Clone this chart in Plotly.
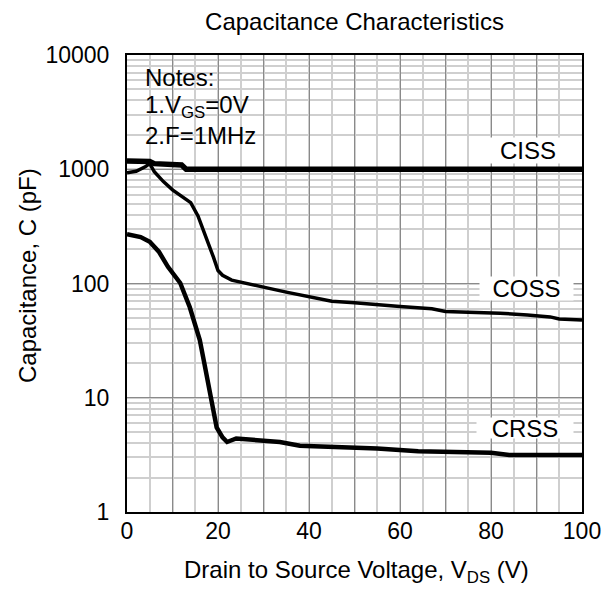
import plotly.graph_objects as go

# Drain-source voltage (V) and capacitance (pF)
v_ciss = [0, 2, 5, 6, 8, 12, 13, 20, 40, 60, 80, 100]
c_ciss = [1180, 1180, 1170, 1120, 1100, 1090, 1000, 1000, 1000, 1000, 1000, 1000]

v_coss = [0, 2, 4, 5, 6, 8, 10, 12, 14, 15.6, 17, 19, 20, 21, 23, 26, 30, 35, 40,
          45, 50, 55, 60, 67, 70, 75, 82, 88, 93, 95, 100]
c_coss = [930, 960, 1050, 1120, 950, 780, 660, 580, 510, 390, 280, 170, 130, 118, 107,
          100, 93, 84, 76, 70, 68, 65, 63, 60, 57, 56, 55, 53, 51, 49, 48]

v_crss = [0, 3, 5, 7, 9, 11.7, 13.8, 16, 17, 18.2, 19, 19.7, 21, 22, 24, 27, 30,
          33.6, 38, 45, 50, 55, 64, 70, 80, 84, 90, 100]
c_crss = [270, 255, 232, 190, 140, 101, 62, 32, 20, 11.7, 7.5, 5.5, 4.5, 4.1, 4.4,
          4.3, 4.2, 4.1, 3.8, 3.7, 3.6, 3.6, 3.4, 3.35, 3.3, 3.15, 3.15, 3.15]

x_grid = [0, 10, 20, 30, 40, 50, 60, 70, 80, 90, 100]
x_tick_labels = ["0", "", "20", "", "40", "", "60", "", "80", "", "100"]
y_ticks = [1, 10, 100, 1000, 10000]
y_tick_text = ["1", "10", "100", "1000", "10000"]

notes_lines = ["Notes:", "1.V<sub>GS</sub>=0V", "2.F=1MHz"]
series_labels = ["CISS", "COSS", "CRSS"]

FONT = "Liberation Sans, Arial, sans-serif"

# plot area in pixels
L, R, T, B = 127, 582, 55, 512
W, H = 608, 592


def pxx(px):
    return (px - L) / (R - L)


def pxy(py):
    return (B - py) / (B - T)


fig = go.Figure()
fig.add_trace(go.Scatter(x=v_ciss, y=c_ciss, mode="lines",
                         line=dict(color="black", width=5.5), name="CISS"))
fig.add_trace(go.Scatter(x=v_coss, y=c_coss, mode="lines",
                         line=dict(color="black", width=3.5), name="COSS"))
fig.add_trace(go.Scatter(x=v_crss, y=c_crss, mode="lines",
                         line=dict(color="black", width=4.5), name="CRSS"))

annotations = []
# notes block
for line, cy in zip(notes_lines, [77, 106, 135]):
    annotations.append(dict(text=line, xref="paper", yref="paper", x=pxx(143), y=pxy(cy),
                            xanchor="left", yanchor="middle", showarrow=False,
                            font=dict(size=24, color="black", family=FONT)))
# series labels with white boxes
label_boxes = [(528, 150.5, 90, 25), (526.5, 288.5, 93, 23), (525, 428, 96, 20)]
for name, (cx, cy, bw, bh) in zip(series_labels, label_boxes):
    annotations.append(dict(text=name, xref="paper", yref="paper", x=pxx(cx), y=pxy(cy),
                            xanchor="center", yanchor="middle", showarrow=False,
                            bgcolor="white", width=bw, height=bh, borderpad=0,
                            font=dict(size=24, color="black", family=FONT)))
# axis titles
annotations.append(dict(text="Drain to Source Voltage, V<sub>DS</sub> (V)", xref="paper",
                        yref="paper", x=pxx(356), y=pxy(571), xanchor="center",
                        yanchor="middle", showarrow=False,
                        font=dict(size=24, color="black", family=FONT)))
annotations.append(dict(text="Capacitance, C (pF)", xref="paper", yref="paper",
                        x=pxx(27), y=pxy(276), xanchor="center", yanchor="middle",
                        textangle=-90, showarrow=False,
                        font=dict(size=24, color="black", family=FONT)))

shapes = [dict(type="rect", xref="paper", yref="paper", x0=pxx(135), x1=pxx(273),
               y0=pxy(150), y1=pxy(65), fillcolor="white", line=dict(width=0),
               layer="between")]

fig.update_layout(
    width=W, height=H,
    margin=dict(l=L, r=W - R, t=T, b=H - B),
    paper_bgcolor="white", plot_bgcolor="white",
    showlegend=False,
    font=dict(family=FONT, size=23, color="black"),
    title=dict(text="Capacitance Characteristics", x=0.5, xref="paper", xanchor="center",
               y=1 - 22 / H, yanchor="middle", font=dict(size=24, color="black")),
    annotations=annotations,
    shapes=shapes,
)

fig.update_xaxes(
    range=[0, 100], tickvals=x_grid, ticktext=x_tick_labels, ticks="",
    ticklabelstandoff=-3, automargin=False,
    showgrid=True, gridcolor="#8a8a8a", gridwidth=1,
    minor=dict(dtick=5, showgrid=True, gridcolor="#cfcfcf", gridwidth=2),
    showline=True, mirror=True, linecolor="black", linewidth=2,
    zeroline=False, tickfont=dict(size=23),
)
fig.update_yaxes(
    type="log", range=[0, 4], tickvals=y_ticks, ticktext=y_tick_text, ticks="",
    ticklabelstandoff=11, automargin=False,
    showgrid=True, gridcolor="#8a8a8a", gridwidth=1,
    minor=dict(dtick="D1", showgrid=True, gridcolor="#cfcfcf", gridwidth=2),
    showline=True, mirror=True, linecolor="black", linewidth=2,
    zeroline=False, tickfont=dict(size=23),
)

fig.write_html("out.html", config={"displayModeBar": False},
               post_script="document.body.style.margin='0px';")
